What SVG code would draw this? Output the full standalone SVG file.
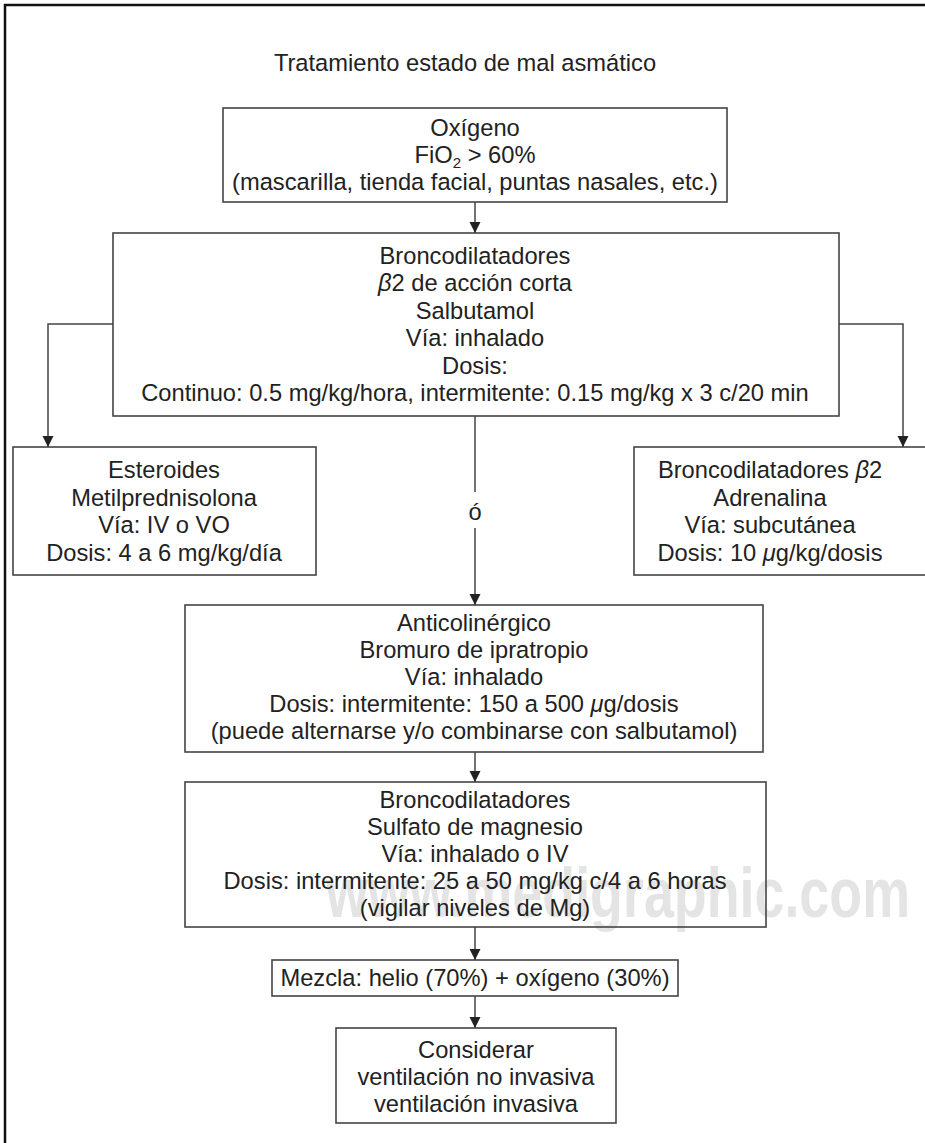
<svg xmlns="http://www.w3.org/2000/svg" width="925" height="1143" viewBox="0 0 925 1143">
<defs>
<marker id="arr" markerWidth="12" markerHeight="12" refX="11" refY="6" orient="auto" markerUnits="userSpaceOnUse">
<path d="M0,0.5 L11,6 L0,11.5 Z" fill="#222"/>
</marker>
<style>
.box{fill:none;stroke:#444;stroke-width:1.6}
.t{font-family:"Liberation Sans",Arial,Helvetica,sans-serif;font-size:23.7px;fill:#222;text-anchor:middle}
.g{font-style:italic}
.c{fill:none;stroke:#444;stroke-width:1.5}
.wm{font-family:"Liberation Sans",Arial,Helvetica,sans-serif;font-size:70px;font-weight:bold;fill:#e4e4e4}
</style>
</defs>
<rect width="925" height="1143" fill="#fff"/>
<path d="M5,1143 V5 H925" fill="none" stroke="#111" stroke-width="2.5"/>
<text class="wm" x="326" y="917" textLength="584" lengthAdjust="spacingAndGlyphs">www.medigraphic.com</text>
<text class="t" x="465" y="71" font-size="24">Tratamiento estado de mal asmático</text>

<g id="oxigeno">
<rect class="box" x="223" y="108" width="504" height="94"/>
<text class="t" x="475" y="136">Oxígeno</text>
<text class="t" x="475" y="163">FiO<tspan font-size="15" dy="5">2</tspan><tspan dy="-5"> &gt; 60%</tspan></text>
<text class="t" x="475" y="190">(mascarilla, tienda facial, puntas nasales, etc.)</text>
</g>

<g id="broncodilatadores">
<rect class="box" x="113" y="233" width="726" height="183"/>
<text class="t" x="475" y="264">Broncodilatadores</text>
<text class="t" x="475" y="291"><tspan class="g">β</tspan>2 de acción corta</text>
<text class="t" x="475" y="319">Salbutamol</text>
<text class="t" x="475" y="346">Vía: inhalado</text>
<text class="t" x="475" y="374">Dosis:</text>
<text class="t" x="475" y="401">Continuo: 0.5 mg/kg/hora, intermitente: 0.15 mg/kg x 3 c/20 min</text>
</g>

<g id="esteroides">
<rect class="box" x="13" y="447" width="303" height="128"/>
<text class="t" x="164" y="478">Esteroides</text>
<text class="t" x="164" y="506">Metilprednisolona</text>
<text class="t" x="164" y="533">Vía: IV o VO</text>
<text class="t" x="164" y="561">Dosis: 4 a 6 mg/kg/día</text>
</g>

<g id="adrenalina">
<rect class="box" x="634" y="447" width="300" height="128"/>
<text class="t" x="770" y="478">Broncodilatadores <tspan class="g">β</tspan>2</text>
<text class="t" x="770" y="506">Adrenalina</text>
<text class="t" x="770" y="533">Vía: subcutánea</text>
<text class="t" x="770" y="561">Dosis: 10 <tspan class="g">μ</tspan>g/kg/dosis</text>
</g>

<g id="o-label">
<text class="t" x="475" y="520">ó</text>
</g>

<g id="anticolinergico">
<rect class="box" x="185" y="605" width="578" height="147"/>
<text class="t" x="474" y="631">Anticolinérgico</text>
<text class="t" x="474" y="658">Bromuro de ipratropio</text>
<text class="t" x="474" y="685">Vía: inhalado</text>
<text class="t" x="474" y="712">Dosis: intermitente: 150 a 500 <tspan class="g">μ</tspan>g/dosis</text>
<text class="t" x="474" y="739">(puede alternarse y/o combinarse con salbutamol)</text>
</g>

<g id="magnesio">
<rect class="box" x="185" y="782" width="581" height="145"/>
<text class="t" x="475" y="808">Broncodilatadores</text>
<text class="t" x="475" y="835">Sulfato de magnesio</text>
<text class="t" x="475" y="862">Vía: inhalado o IV</text>
<text class="t" x="475" y="889">Dosis: intermitente: 25 a 50 mg/kg c/4 a 6 horas</text>
<text class="t" x="475" y="916">(vigilar niveles de Mg)</text>
</g>

<g id="mezcla">
<rect class="box" x="272" y="960" width="406" height="36"/>
<text class="t" x="475" y="986">Mezcla: helio (70%) + oxígeno (30%)</text>
</g>

<g id="considerar">
<rect class="box" x="336" y="1028" width="280" height="95"/>
<text class="t" x="476" y="1058">Considerar</text>
<text class="t" x="476" y="1085">ventilación no invasiva</text>
<text class="t" x="476" y="1112">ventilación invasiva</text>
</g>

<g id="connectors">
<path class="c" d="M475,202 V233" marker-end="url(#arr)"/>
<path class="c" d="M113,324 H48 V447" marker-end="url(#arr)"/>
<path class="c" d="M839,324 H903 V447" marker-end="url(#arr)"/>
<path class="c" d="M475,416 V492"/>
<path class="c" d="M475,528 V605" marker-end="url(#arr)"/>
<path class="c" d="M475,752 V782" marker-end="url(#arr)"/>
<path class="c" d="M475,927 V960" marker-end="url(#arr)"/>
<path class="c" d="M475,996 V1028" marker-end="url(#arr)"/>
</g>
</svg>
